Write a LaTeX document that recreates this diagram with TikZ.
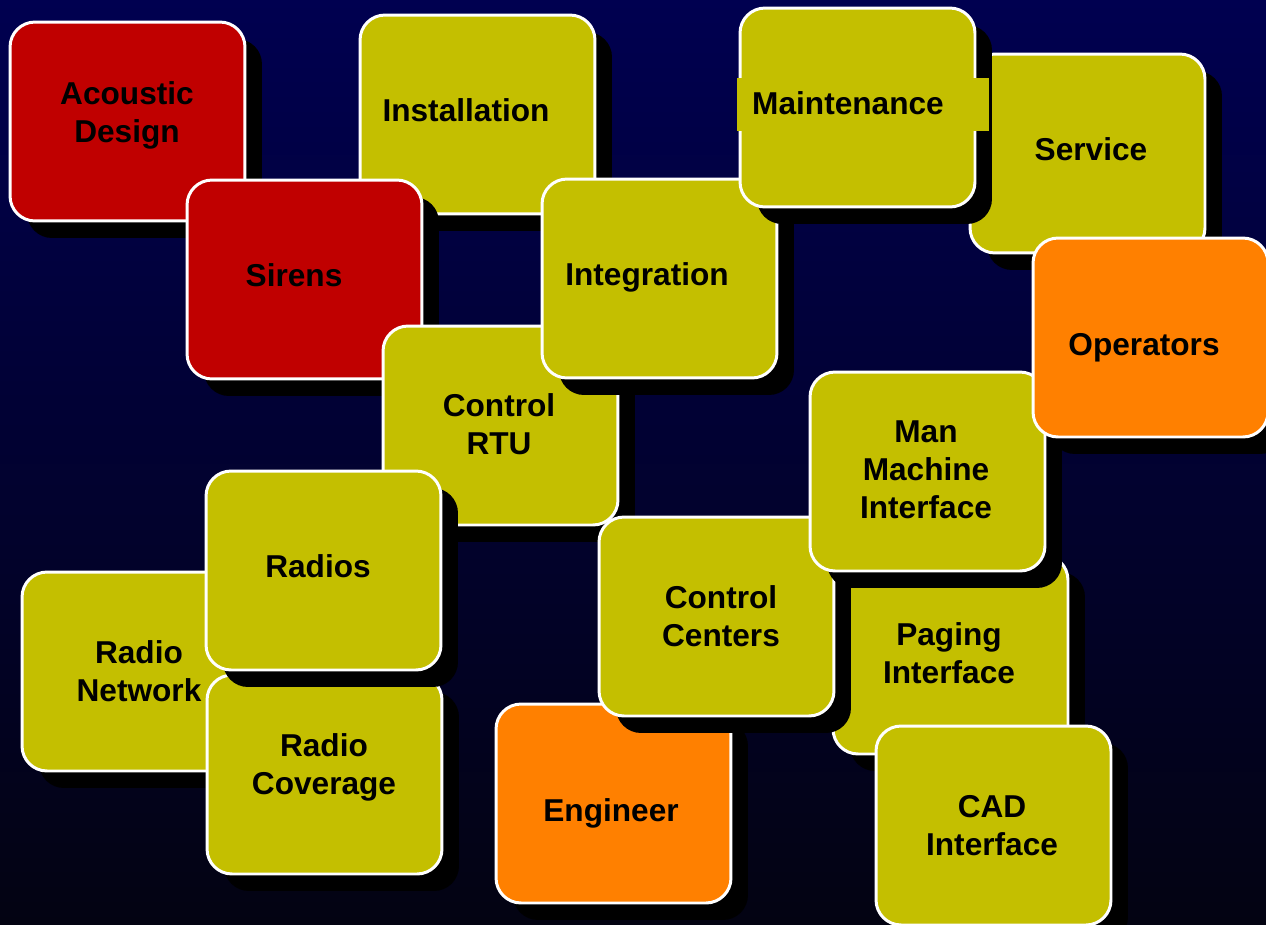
\documentclass[tikz,border=0pt]{standalone}
\usepackage{fontspec}
\setmainfont{Liberation Sans}
\usetikzlibrary{shadows}
\definecolor{sirenred}{RGB}{192,0,0}
\definecolor{olivebox}{RGB}{196,191,0}
\definecolor{engorange}{RGB}{255,128,0}
\definecolor{navytop}{RGB}{0,0,80}
\definecolor{navybottom}{RGB}{3,3,18}
\tikzset{
  card/.style={draw=white, line width=1.7pt, rounded corners=0.5cm,
    minimum width=4.7cm, minimum height=3.98cm, inner sep=0pt,
    drop shadow={shadow xshift=0.34cm, shadow yshift=-0.34cm, fill=black, opacity=1}},
  cardtext/.style={font=\fontsize{18}{21.6}\selectfont\bfseries, align=center, inner sep=0pt}
}

\begin{document}
\begin{tikzpicture}[x=0.02cm, y=-0.02cm]
        % background
        \useasboundingbox (0,0) rectangle (1266,924);
        \shade[top color=navytop, bottom color=navybottom] (0,0) rectangle (1266,924);

        % Acoustic Design
        \node[card, fill=sirenred] (acoustic) at (127.5,121.5) {};
        \node[cardtext] (acoustic-t) at (127,115) {Acoustic\\Design};

        % Installation
        \node[card, fill=olivebox] (install) at (477.5,114.5) {};
        \node[cardtext] (install-t) at (466,110) {Installation};

        % Sirens
        \node[card, fill=sirenred] (sirens) at (304.5,279.5) {};
        \node[cardtext] (sirens-t) at (294,275) {Sirens};

        % Control RTU
        \node[card, fill=olivebox] (rtu) at (500.5,425.5) {};
        \node[cardtext] (rtu-t) at (499,424) {Control\\RTU};

        % Integration
        \node[card, fill=olivebox] (integ) at (659.5,278.5) {};
        \node[cardtext] (integ-t) at (647,277) {Integration};

        % Service
        \node[card, fill=olivebox] (service) at (1087.5,153.5) {};
        \node[cardtext] (service-t) at (1091,149) {Service};

        % Maintenance
        \node[card, fill=olivebox] (maint) at (857.5,107.5) {};
        \fill[olivebox] (737,78) rectangle (989,131);
        \node[cardtext] (maint-t) at (848,103) {Maintenance};

        % Radio Network
        \node[card, fill=olivebox] (network) at (139.5,671.5) {};
        \node[cardtext] (network-t) at (139,671) {Radio\\Network};

        % Radio Coverage
        \node[card, fill=olivebox] (coverage) at (324.5,774.5) {};
        \node[cardtext] (coverage-t) at (324,767.5) {Radio\\Coverage};

        % Radios
        \node[card, fill=olivebox] (radios) at (323.5,570.5) {};
        \node[cardtext] (radios-t) at (318,566) {Radios};

        % Engineer
        \node[card, fill=engorange] (engineer) at (613.5,803.5) {};
        \node[cardtext] (engineer-t) at (611,813) {Engineer};

        % Paging Interface
        \node[card, fill=olivebox] (paging) at (950.5,654.5) {};
        \node[cardtext] (paging-t) at (949,653) {Paging\\Interface};

        % Control Centers
        \node[card, fill=olivebox] (centers) at (716.5,616.5) {};
        \node[cardtext] (centers-t) at (721,616) {Control\\Centers};

        % Man Machine Interface
        \node[card, fill=olivebox] (mmi) at (927.5,471.5) {};
        \node[cardtext] (mmi-t) at (926,470) {Man\\Machine\\Interface};

        % CAD Interface
        \node[card, fill=olivebox] (cad) at (993.5,825.5) {};
        \node[cardtext] (cad-t) at (992,826) {CAD\\Interface};

        % Operators
        \node[card, fill=engorange] (operators) at (1150.5,337.5) {};
        \node[cardtext] (operators-t) at (1144,347.5) {Operators};
\end{tikzpicture}
\end{document}
